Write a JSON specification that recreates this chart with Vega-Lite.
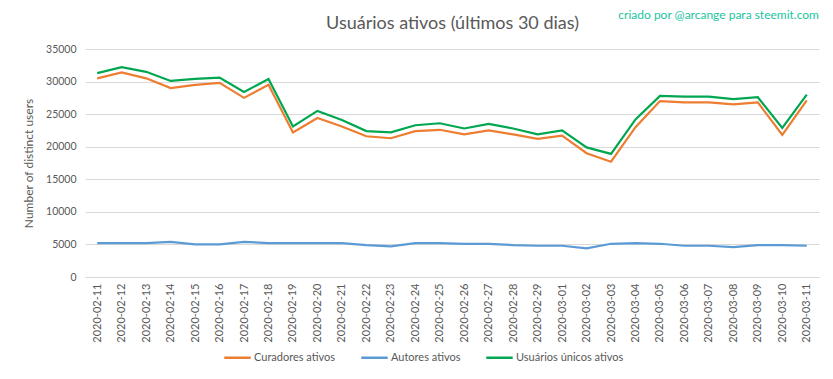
{
"$schema": "https://vega.github.io/schema/vega-lite/v6.json",
"width": 833,
"height": 379,
"autosize": {"type": "fit", "contains": "padding"},
"padding": {"left": 22, "right": 14, "top": 9, "bottom": 36},
"background": "white",
"config": {"font": "Lato", "view": {"stroke": null}},
"title": {"text": "criado por @arcange para steemit.com", "anchor": "end", "color": "#22C4A0", "fontSize": 12, "fontWeight": "normal", "font": "Lato", "offset": -8},
"data": {"values": [
{"date": "2020-02-11", "Curadores ativos": 30500, "Autores ativos": 5200, "Usuários únicos ativos": 31300},
{"date": "2020-02-12", "Curadores ativos": 31400, "Autores ativos": 5200, "Usuários únicos ativos": 32200},
{"date": "2020-02-13", "Curadores ativos": 30500, "Autores ativos": 5200, "Usuários únicos ativos": 31500},
{"date": "2020-02-14", "Curadores ativos": 29000, "Autores ativos": 5400, "Usuários únicos ativos": 30100},
{"date": "2020-02-15", "Curadores ativos": 29500, "Autores ativos": 5000, "Usuários únicos ativos": 30400},
{"date": "2020-02-16", "Curadores ativos": 29800, "Autores ativos": 5000, "Usuários únicos ativos": 30600},
{"date": "2020-02-17", "Curadores ativos": 27500, "Autores ativos": 5400, "Usuários únicos ativos": 28400},
{"date": "2020-02-18", "Curadores ativos": 29500, "Autores ativos": 5200, "Usuários únicos ativos": 30400},
{"date": "2020-02-19", "Curadores ativos": 22200, "Autores ativos": 5200, "Usuários únicos ativos": 23100},
{"date": "2020-02-20", "Curadores ativos": 24400, "Autores ativos": 5200, "Usuários únicos ativos": 25500},
{"date": "2020-02-21", "Curadores ativos": 23100, "Autores ativos": 5200, "Usuários únicos ativos": 24100},
{"date": "2020-02-22", "Curadores ativos": 21600, "Autores ativos": 4900, "Usuários únicos ativos": 22400},
{"date": "2020-02-23", "Curadores ativos": 21300, "Autores ativos": 4700, "Usuários únicos ativos": 22200},
{"date": "2020-02-24", "Curadores ativos": 22400, "Autores ativos": 5200, "Usuários únicos ativos": 23300},
{"date": "2020-02-25", "Curadores ativos": 22600, "Autores ativos": 5200, "Usuários únicos ativos": 23600},
{"date": "2020-02-26", "Curadores ativos": 21900, "Autores ativos": 5100, "Usuários únicos ativos": 22800},
{"date": "2020-02-27", "Curadores ativos": 22500, "Autores ativos": 5100, "Usuários únicos ativos": 23500},
{"date": "2020-02-28", "Curadores ativos": 21900, "Autores ativos": 4900, "Usuários únicos ativos": 22800},
{"date": "2020-02-29", "Curadores ativos": 21200, "Autores ativos": 4800, "Usuários únicos ativos": 21900},
{"date": "2020-03-01", "Curadores ativos": 21700, "Autores ativos": 4800, "Usuários únicos ativos": 22500},
{"date": "2020-03-02", "Curadores ativos": 19000, "Autores ativos": 4400, "Usuários únicos ativos": 19900},
{"date": "2020-03-03", "Curadores ativos": 17700, "Autores ativos": 5100, "Usuários únicos ativos": 18900},
{"date": "2020-03-04", "Curadores ativos": 23000, "Autores ativos": 5200, "Usuários únicos ativos": 24200},
{"date": "2020-03-05", "Curadores ativos": 27000, "Autores ativos": 5100, "Usuários únicos ativos": 27800},
{"date": "2020-03-06", "Curadores ativos": 26800, "Autores ativos": 4800, "Usuários únicos ativos": 27700},
{"date": "2020-03-07", "Curadores ativos": 26800, "Autores ativos": 4800, "Usuários únicos ativos": 27700},
{"date": "2020-03-08", "Curadores ativos": 26500, "Autores ativos": 4600, "Usuários únicos ativos": 27300},
{"date": "2020-03-09", "Curadores ativos": 26800, "Autores ativos": 4900, "Usuários únicos ativos": 27600},
{"date": "2020-03-10", "Curadores ativos": 21800, "Autores ativos": 4900, "Usuários únicos ativos": 22900},
{"date": "2020-03-11", "Curadores ativos": 27100, "Autores ativos": 4800, "Usuários únicos ativos": 28000}
]},
"transform": [{"fold": ["Curadores ativos", "Autores ativos", "Usuários únicos ativos"], "as": ["serie", "valor"]}],
"layer": [
{
"mark": {"type": "line", "strokeWidth": 2.2},
"encoding": {
"x": {"field": "date", "type": "ordinal", "scale": {"type": "point", "padding": 0.5},
 "axis": {"title": null, "labelAngle": -90, "labelFontSize": 11, "labelColor": "#595959", "ticks": false, "domain": true, "domainColor": "#d9d9d9", "labelPadding": 6, "grid": false}},
"y": {"field": "valor", "type": "quantitative", "scale": {"domain": [0, 35000]},
 "axis": {"title": "Number of distinct users", "titleFontSize": 12, "titleFontWeight": "normal", "titleColor": "#595959", "titlePadding": 10, "labelFontSize": 10.5, "labelColor": "#595959", "values": [0, 5000, 10000, 15000, 20000, 25000, 30000, 35000], "format": "d", "ticks": false, "domain": false, "gridColor": "#d9d9d9", "labelPadding": 9}},
"color": {"field": "serie", "type": "nominal",
 "scale": {"domain": ["Curadores ativos", "Autores ativos", "Usuários únicos ativos"], "range": ["#ED7D31", "#5B9BD5", "#00A650"]},
 "legend": {"orient": "none", "legendX": 138, "legendY": 294, "direction": "horizontal", "title": null, "symbolType": "stroke", "symbolSize": 700, "symbolStrokeWidth": 2.5, "labelFontSize": 11, "labelColor": "#595959", "labelOffset": 2, "columnPadding": 20}}
}
},
{
"mark": {"type": "rule", "opacity": 0},
"encoding": {
"x": {"field": "date", "type": "ordinal", "scale": {"type": "point", "padding": 0.5},
 "axis": {"orient": "top", "title": "Usuários ativos (últimos 30 dias)", "titleFontSize": 18, "titleFontWeight": "normal", "titleColor": "#595959", "titlePadding": 17, "labels": false, "ticks": false, "domain": false, "grid": false}}
}
}
],
"resolve": {"axis": {"x": "independent"}}
}
